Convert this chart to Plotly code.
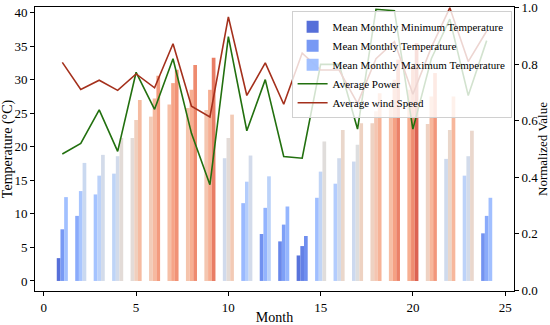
import plotly.graph_objects as go
from plotly.colors import sample_colorscale

months = list(range(1, 25))
tmin = [3.4, 9.7, 12.9, 16.0, 21.3, 24.5, 26.3, 25.8, 25.5, 18.3, 11.6, 7.0,
        5.9, 3.8, 12.4, 14.5, 17.8, 23.5, 26.5, 28.5, 23.4, 18.2, 15.7, 7.1]
tmean = [7.7, 13.4, 15.7, 18.6, 24.0, 27.2, 29.5, 28.5, 28.5, 21.3, 14.8, 10.9,
         8.4, 5.2, 16.3, 18.3, 20.3, 25.3, 30.0, 32.0, 27.5, 22.5, 18.6, 9.7]
tmax = [12.5, 17.6, 18.8, 21.3, 27.0, 30.6, 31.5, 32.2, 33.3, 24.8, 18.7, 15.6,
        11.1, 6.7, 20.8, 22.5, 23.5, 28.0, 33.0, 35.5, 31.0, 27.5, 22.4, 12.4]
power = [0.483, 0.52, 0.639, 0.492, 0.772, 0.641, 0.82, 0.556, 0.374, 0.898, 0.565, 0.746,
         0.474, 0.468, 0.80, 0.80, 0.571, 0.995, 0.99, 0.571, 0.82, 0.96, 0.69, 0.884]
wind = [0.807, 0.711, 0.744, 0.708, 0.766, 0.717, 0.873, 0.652, 0.614, 0.968, 0.69, 0.805,
        0.659, 0.84, 0.78, 0.78, 0.662, 0.82, 0.88, 0.694, 0.86, 1.0, 0.81, 0.918]

# coolwarm colormap (Moreland) anchors
cw = [(59,76,192),(68,90,204),(77,104,215),(87,117,225),(98,130,234),(108,142,241),
      (119,154,247),(130,165,251),(141,176,254),(152,185,255),(163,194,255),(174,201,253),
      (184,208,249),(194,213,244),(204,217,238),(213,219,230),(221,221,221),(229,216,209),
      (236,211,197),(241,204,184),(244,196,173),(246,187,160),(247,177,148),(247,166,135),
      (244,154,123),(241,141,111),(236,127,99),(229,112,88),(222,96,77),(213,80,66),
      (203,62,56),(192,40,47),(180,4,38)]
coolwarm = [[i / (len(cw) - 1), "rgb(%d,%d,%d)" % c] for i, c in enumerate(cw)]
CMIN, CMAX = 1.0, 40.0

def colors(vals):
    return sample_colorscale(coolwarm, [min(max((v - CMIN) / (CMAX - CMIN), 0), 1) for v in vals])

font = "Liberation Serif, Times New Roman, serif"
fig = go.Figure()
series = [("Mean Monthly Minimum Temperature", tmin, -0.3),
          ("Mean Monthly Temperature", tmean, -0.1),
          ("Mean Monthly Maximum Temperature", tmax, 0.1)]
for name, vals, off in series:
    fig.add_trace(go.Bar(x=months, y=vals, name=name, width=0.2, offset=off,
                         marker=dict(color=colors(vals), line=dict(width=0)),
                         opacity=0.95, yaxis="y"))
fig.add_trace(go.Scatter(x=months, y=power, name="Average Power", mode="lines",
                         line=dict(color="#22700f", width=1.6), yaxis="y2"))
fig.add_trace(go.Scatter(x=months, y=wind, name="Average wind Speed", mode="lines",
                         line=dict(color="#a4301c", width=1.6), yaxis="y2"))

axis_common = dict(showline=True, linecolor="black", linewidth=1, ticks="outside",
                   ticklen=4, tickcolor="black", showgrid=False, zeroline=False,
                   automargin=False, ticklabeloverflow="allow",
                   tickfont=dict(family=font, size=13, color="black"))
fig.update_layout(
    width=550, height=325, barmode="overlay",
    margin=dict(l=35, r=36, t=7, b=34),
    plot_bgcolor="white", paper_bgcolor="white",
    font=dict(family=font, color="black"),
    xaxis=dict(range=[-0.48, 25.48], tickvals=[0, 5, 10, 15, 20, 25], mirror=True,
               title=dict(text="Month", font=dict(family=font, size=14), standoff=0),
               **axis_common),
    yaxis=dict(range=[-1.5, 40.85], tickvals=[0, 5, 10, 15, 20, 25, 30, 35, 40],
               title=dict(text="Temperature (°C)", font=dict(family=font, size=14), standoff=2),
               **axis_common),
    yaxis2=dict(range=[-0.002, 1.003], overlaying="y", side="right",
                tickvals=[0, 0.2, 0.4, 0.6, 0.8, 1.0], tickformat=".1f",
                title=dict(text="Normalized Value", font=dict(family=font, size=13), standoff=0),
                **axis_common),
    legend=dict(x=0.995, y=0.985, xanchor="right", yanchor="top",
                bgcolor="rgba(255,255,255,0.8)", bordercolor="#d0d0d0", borderwidth=1,
                font=dict(family=font, size=11, color="black"), tracegroupgap=0),
    showlegend=True,
)
fig.write_html("out.html", config={"displayModeBar": False},
               post_script="document.body.style.margin='0';document.body.style.overflow='hidden';")
